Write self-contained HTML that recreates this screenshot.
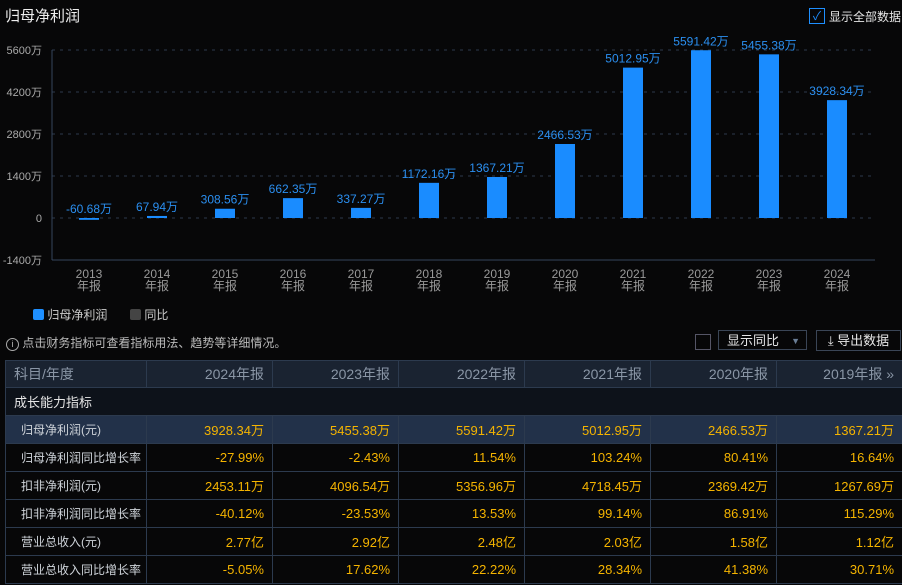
<!DOCTYPE html>
<html><head><meta charset="utf-8"><style>
body{margin:0;width:902px;height:585px;background:#070708;overflow:hidden;font-family:"Liberation Sans","Noto Sans CJK SC",sans-serif;color:#ddd;position:relative}
.abs{position:absolute;white-space:nowrap}
table{position:absolute;left:5px;top:360px;border-collapse:collapse;font-size:13px;table-layout:fixed;width:897px}
td{border:1px solid #2c3a4e;height:28px;padding:0 8px;text-align:right;box-sizing:border-box;white-space:nowrap;overflow:hidden}
td:first-child{text-align:left}
tr.hd td{background:#1a2331;color:#8a96a6;font-size:14px;height:27px}
tr.sec td{background:#0d121a;color:#e6e6e6}
tr.hl td{background:#223149}
.v{color:#f5b400}
.lbl{color:#cfd4da;padding-left:15px!important;padding-right:0!important;font-size:12px}
</style></head><body>
<div class="abs" style="left:5px;top:5px;font-size:15px;color:#eee">归母净利润</div>
<div class="abs" style="left:809px;top:8px;width:14px;height:14px;border:1px solid #1e8fff;color:#1e8fff;font-size:12px;line-height:14px;text-align:center">✓</div>
<div class="abs" style="left:829px;top:8px;font-size:12px;color:#e6e6e6">显示全部数据</div>
<svg class="abs" style="left:0;top:0" width="902" height="300">
<g id="g"></g></svg>
<div class="abs" style="left:33px;top:306px;font-size:12px;color:#ccc"><span style="display:inline-block;width:11px;height:11px;background:#1e8fff;border-radius:2px;vertical-align:-1px"></span> 归母净利润</div>
<div class="abs" style="left:130px;top:306px;font-size:12px;color:#ccc"><span style="display:inline-block;width:11px;height:11px;background:#444;border-radius:2px;vertical-align:-1px"></span> 同比</div>
<div class="abs" style="left:6px;top:334px;font-size:12px;color:#bbb"><span style="display:inline-block;width:11px;height:11px;border:1px solid #aaa;border-radius:50%;font-size:9px;line-height:11px;text-align:center">i</span> 点击财务指标可查看指标用法、趋势等详细情况。</div>
<div class="abs" style="left:695px;top:334px;width:14px;height:14px;border:1px solid #556"></div>
<div class="abs" style="left:718px;top:330px;width:89px;height:20px;border:1px solid #3a4556;font-size:13px;line-height:20px;padding-left:8px;box-sizing:border-box;color:#e6e6e6">显示同比 <span style="position:absolute;right:6px;color:#6a7e96;font-size:9px">▼</span></div>
<div class="abs" style="left:816px;top:330px;width:85px;height:21px;border:1px solid #3a4556;font-size:13px;line-height:20px;text-align:center;box-sizing:border-box;color:#e6e6e6">⤓ 导出数据</div>
<table>
<colgroup><col style="width:141px"><col style="width:126px"><col style="width:126px"><col style="width:126px"><col style="width:126px"><col style="width:126px"><col style="width:126px"></colgroup>
<tr class="hd"><td>科目/年度</td><td>2024年报</td><td>2023年报</td><td>2022年报</td><td>2021年报</td><td>2020年报</td><td>2019年报 »</td></tr>
<tr class="sec"><td colspan="7">成长能力指标</td></tr>
<tr class="hl"><td class="lbl">归母净利润(元)</td><td class="v">3928.34万</td><td class="v">5455.38万</td><td class="v">5591.42万</td><td class="v">5012.95万</td><td class="v">2466.53万</td><td class="v">1367.21万</td></tr>
<tr><td class="lbl">归母净利润同比增长率</td><td class="v">-27.99%</td><td class="v">-2.43%</td><td class="v">11.54%</td><td class="v">103.24%</td><td class="v">80.41%</td><td class="v">16.64%</td></tr>
<tr><td class="lbl">扣非净利润(元)</td><td class="v">2453.11万</td><td class="v">4096.54万</td><td class="v">5356.96万</td><td class="v">4718.45万</td><td class="v">2369.42万</td><td class="v">1267.69万</td></tr>
<tr><td class="lbl">扣非净利润同比增长率</td><td class="v">-40.12%</td><td class="v">-23.53%</td><td class="v">13.53%</td><td class="v">99.14%</td><td class="v">86.91%</td><td class="v">115.29%</td></tr>
<tr><td class="lbl">营业总收入(元)</td><td class="v">2.77亿</td><td class="v">2.92亿</td><td class="v">2.48亿</td><td class="v">2.03亿</td><td class="v">1.58亿</td><td class="v">1.12亿</td></tr>
<tr><td class="lbl">营业总收入同比增长率</td><td class="v">-5.05%</td><td class="v">17.62%</td><td class="v">22.22%</td><td class="v">28.34%</td><td class="v">41.38%</td><td class="v">30.71%</td></tr>
</table>
<script>
const years=["2013","2014","2015","2016","2017","2018","2019","2020","2021","2022","2023","2024"];
const values=[-60.68,67.94,308.56,662.35,337.27,1172.16,1367.21,2466.53,5012.95,5591.42,5455.38,3928.34];
const ticks=[5600,4200,2800,1400,0,-1400];
const NS="http://www.w3.org/2000/svg";
const g=document.getElementById('g');
const x0=55,x1=871,gx0=52,gx1=875,y0=218,ppu=42/1400,step=(x1-x0)/years.length;
const y=v=>y0-v*ppu, xc=i=>x0+step*(i+0.5);
function mk(t,a,txt){const e=document.createElementNS(NS,t);for(const k in a)e.setAttribute(k,a[k]);if(txt!==undefined)e.textContent=txt;g.appendChild(e);return e;}
ticks.forEach(t=>{
 const yy=y(t);
 if(t>-1400){const l=mk('line',{x1:gx0,x2:gx1,y1:yy,y2:yy,stroke:'#2e3a4c','stroke-dasharray':'3,5'});
 
 }
 const tx=mk('text',{x:42,y:yy+4,'text-anchor':'end','font-size':11,fill:'#aaa'},t===0?'0':t+'万');
 
 
});
mk('line',{x1:gx0,x2:gx0,y1:y(5600),y2:y(-1400),stroke:'#34455c'});
mk('line',{x1:gx0,x2:gx1,y1:y(-1400),y2:y(-1400),stroke:'#34455c'});
years.forEach((yr,i)=>{
 const v=values[i],cx=xc(i);
 const r=mk('rect',{x:cx-10,y:Math.min(y(v),y0),width:20,height:Math.max(Math.abs(y(v)-y0),1.5),fill:'#1a8cff'});
 
 
 const lb=mk('text',{x:cx,y:Math.min(y(v),y0)-5,'text-anchor':'middle','font-size':12,fill:'#2b8ff0'},v.toFixed(2)+'万');
 
 
 const t1=mk('text',{x:cx,y:278,'text-anchor':'middle','font-size':12,fill:'#999'},yr);
 
 
 mk('text',{x:cx,y:290,'text-anchor':'middle','font-size':12,fill:'#999'},'年报');
});
</script>
</body></html>
